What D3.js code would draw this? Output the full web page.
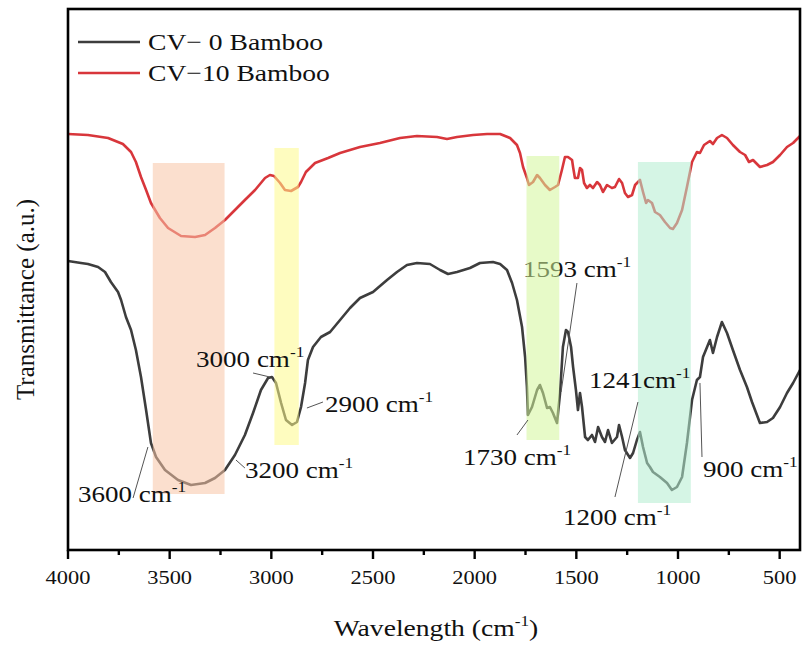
<!DOCTYPE html>
<html lang="en">
<head>
<meta charset="UTF-8">
<title>FTIR</title>
<style>
  body { margin: 0; background: #fff; }
  text { font-family: "Liberation Serif", "Times New Roman", serif; fill: #111; }
</style>
</head>
<body>
<svg id="chart"></svg>
<script src="https://cdn.jsdelivr.net/npm/d3@7"></script>
<script>
// CV-0 Bamboo (black)
var wn0 = [4000, 3936, 3902, 3852, 3818, 3789, 3754, 3739, 3715, 3690, 3666, 3641, 3616, 3592, 3567, 3523, 3459, 3395, 3326, 3277, 3228, 3179, 3130, 3090, 3051, 3016, 2997, 2977, 2952, 2928, 2898, 2874, 2854, 2834, 2820, 2795, 2756, 2711, 2662, 2613, 2564, 2500, 2431, 2382, 2333, 2284, 2220, 2170, 2131, 2087, 2023, 1974, 1910, 1875, 1841, 1816, 1792, 1767, 1752, 1743, 1738, 1718, 1693, 1679, 1664, 1644, 1630, 1615, 1595, 1580, 1566, 1551, 1541, 1526, 1516, 1502, 1492, 1482, 1472, 1457, 1443, 1423, 1408, 1393, 1374, 1359, 1344, 1325, 1300, 1290, 1275, 1261, 1236, 1221, 1202, 1187, 1172, 1152, 1138, 1123, 1089, 1054, 1030, 1005, 980, 956, 931, 907, 892, 877, 857, 843, 828, 808, 784, 759, 730, 695, 661, 636, 597, 562, 533, 498, 464, 434, 400];
var t0 = [289, 287, 286, 283, 278, 268, 258, 250, 233, 220, 200, 173, 140, 107, 93, 80, 70, 65, 67, 72, 80, 95, 115, 137, 160, 172, 173, 167, 147, 130, 125, 128, 143, 167, 190, 203, 213, 218, 230, 242, 252, 258, 270, 278, 285, 287, 286, 280, 276, 278, 282, 287, 288, 286, 280, 267, 250, 223, 193, 163, 135, 143, 160, 165, 157, 142, 143, 137, 127, 157, 203, 220, 218, 203, 183, 160, 140, 157, 143, 113, 110, 115, 108, 123, 113, 108, 120, 107, 113, 125, 113, 100, 92, 97, 110, 118, 103, 87, 83, 78, 73, 67, 60, 63, 73, 107, 150, 170, 173, 193, 203, 210, 197, 213, 228, 217, 200, 180, 163, 148, 127, 128, 132, 143, 157, 167, 180];

// CV-10 Bamboo (red)
var wn10 = [4000, 3902, 3803, 3730, 3690, 3666, 3641, 3616, 3592, 3548, 3508, 3444, 3375, 3326, 3277, 3228, 3179, 3130, 3080, 3031, 3007, 2987, 2957, 2933, 2903, 2869, 2854, 2830, 2785, 2721, 2662, 2564, 2466, 2367, 2284, 2185, 2136, 2087, 2008, 1939, 1875, 1826, 1792, 1777, 1762, 1743, 1733, 1713, 1693, 1679, 1654, 1630, 1605, 1590, 1571, 1556, 1541, 1521, 1516, 1507, 1492, 1482, 1472, 1462, 1448, 1433, 1418, 1398, 1384, 1369, 1349, 1325, 1310, 1290, 1275, 1261, 1246, 1226, 1211, 1187, 1172, 1157, 1148, 1128, 1113, 1089, 1064, 1039, 1025, 1005, 980, 956, 931, 907, 892, 872, 843, 828, 808, 784, 759, 730, 695, 670, 651, 631, 597, 562, 533, 498, 464, 434, 400];
var t10 = [416, 415, 412, 406, 398, 388, 373, 360, 347, 332, 322, 314, 313, 315, 322, 330, 340, 350, 360, 372, 375, 374, 367, 360, 359, 363, 368, 378, 387, 392, 397, 403, 407, 412, 414, 413, 411, 413, 415, 416, 416, 412, 405, 397, 383, 372, 365, 368, 375, 372, 365, 360, 363, 365, 380, 393, 393, 390, 383, 372, 372, 382, 380, 367, 362, 365, 362, 368, 365, 358, 365, 362, 363, 371, 367, 357, 353, 355, 365, 370, 358, 347, 350, 347, 338, 335, 328, 322, 321, 327, 340, 363, 388, 398, 397, 405, 409, 406, 412, 415, 412, 405, 398, 395, 388, 390, 383, 385, 388, 395, 403, 407, 414];

var seriesNames = ["CV\u2212 0 Bamboo", "CV\u221210 Bamboo"];
var seriesColors = ["#3d3d3d", "#d8363b"];

// shaded bands (wavenumber range, a.u. range)
var bandFrom = [3583, 2985, 1745, 1197];
var bandTo = [3230, 2865, 1584, 937];
var bandTop = [387, 402, 394, 388];
var bandBottom = [56, 105, 110, 47];
var bandColors = ["#f7c4a5", "#fdf98a", "#d4f59a", "#b3ecd0"];

// peak annotations: label position and leader line (wavenumber, a.u.)
var annNum = ["3600", "3200", "3000", "2900", "1730", "1593", "1241", "1200", "900"];
var annSpace = [" ", " ", " ", " ", " ", " ", "", " ", " "];
var annX = [3951, 3130, 3370, 2736, 2057, 1762, 1438, 1566, 877];
var annY = [48, 72, 183, 138, 85, 273, 162, 25, 73];
var annUnderBand = [false, false, false, false, false, true, false, false, false];
var leadX1 = [3607, 3174, 3090, 2825, 1792, 1497, 1197, null, 882];
var leadY1 = [103, 90, 177, 142, 115, 267, 148, null, 93];
var leadX2 = [3680, 3130, 3007, 2746, 1738, 1575, 1310, null, 892];
var leadY2 = [52, 82, 173, 148, 130, 158, 53, null, 167];

var xTicks = [4000, 3500, 3000, 2500, 2000, 1500, 1000, 500];
var xMinor = [3750, 3250, 2750, 2250, 1750, 1250, 750];

var width = 805, height = 646;
var mLeft = 68, mRight = 800, mTop = 9, mBottom = 550;
var SX = 1.15;

var svg = d3.select("#chart").attr("width", width).attr("height", height);

var x = d3.scaleLinear().domain([4000, 400]).range([mLeft, mRight]);
var y = d3.scaleLinear().domain([0, 541]).range([mBottom, mTop]);

function stretched(g, px, py, size, anchor) {
    return g.append("text")
        .attr("transform", "translate(" + px + "," + py + ") scale(" + SX + ",1)")
        .attr("font-size", size)
        .attr("text-anchor", anchor || "start");
}

// spectra
var line = d3.line().x(function (d) { return x(d[0]); }).y(function (d) { return y(d[1]); });
var spectra = [d3.zip(wn0, t0), d3.zip(wn10, t10)];
svg.selectAll("path.spec")
    .data(spectra)
    .enter().append("path")
    .attr("class", "spec")
    .attr("d", line)
    .attr("fill", "none")
    .attr("stroke", function (d, i) { return seriesColors[i]; })
    .attr("stroke-width", 2.6)
    .attr("stroke-linejoin", "round");

var annBelow = svg.append("g");

// bands on top of the curves
svg.selectAll("rect.band")
    .data(bandFrom)
    .enter().append("rect")
    .attr("class", "band")
    .attr("x", function (d) { return x(d); })
    .attr("width", function (d, i) { return x(bandTo[i]) - x(d); })
    .attr("y", function (d, i) { return y(bandTop[i]); })
    .attr("height", function (d, i) { return y(bandBottom[i]) - y(bandTop[i]); })
    .attr("fill", function (d, i) { return bandColors[i]; })
    .attr("opacity", 0.55);

var annAbove = svg.append("g");

// annotations
annNum.forEach(function (n, i) {
    var g = annUnderBand[i] ? annBelow : annAbove;
    if (leadX1[i] !== null) {
        g.append("line")
            .attr("x1", x(leadX1[i])).attr("y1", y(leadY1[i]))
            .attr("x2", x(leadX2[i])).attr("y2", y(leadY2[i]))
            .attr("stroke", "#555").attr("stroke-width", 1);
    }
    var t = stretched(g, x(annX[i]), y(annY[i]), 23.5);
    t.append("tspan").text(n + annSpace[i] + "cm");
    t.append("tspan").attr("font-size", 15).attr("dy", -10).text("-1");
});

// frame
svg.append("rect")
    .attr("x", mLeft).attr("y", mTop)
    .attr("width", mRight - mLeft).attr("height", mBottom - mTop)
    .attr("fill", "none").attr("stroke", "#000").attr("stroke-width", 2.6);

// x axis
var axis = svg.append("g").attr("transform", "translate(0," + mBottom + ")");
axis.selectAll("line.major").data(xTicks).enter().append("line")
    .attr("x1", function (d) { return x(d); }).attr("x2", function (d) { return x(d); })
    .attr("y1", 0).attr("y2", 9).attr("stroke", "#000").attr("stroke-width", 2.4);
axis.selectAll("line.minor").data(xMinor).enter().append("line")
    .attr("x1", function (d) { return x(d); }).attr("x2", function (d) { return x(d); })
    .attr("y1", 0).attr("y2", 5).attr("stroke", "#000").attr("stroke-width", 2.4);
xTicks.forEach(function (d) {
    stretched(axis, x(d), 34, 19.5, "middle").text(d);
});

// axis titles
var xt = stretched(svg, 436, 636, 24, "middle");
xt.append("tspan").text("Wavelength (cm");
xt.append("tspan").attr("font-size", 15).attr("dy", -10).text("-1");
xt.append("tspan").attr("dy", 10).text(")");

svg.append("text")
    .attr("transform", "translate(34," + ((mTop + mBottom) / 2 + 20) + ") rotate(-90)")
    .attr("text-anchor", "middle")
    .attr("font-size", 25)
    .text("Transmittance (a.u.)");

// legend
var legend = svg.append("g");
seriesNames.forEach(function (name, i) {
    legend.append("line")
        .attr("x1", 78).attr("x2", 140)
        .attr("y1", 42 + i * 31).attr("y2", 42 + i * 31)
        .attr("stroke", seriesColors[i]).attr("stroke-width", 2.6);
    stretched(legend, 148, 50 + i * 31, 24).text(name);
});
</script>
</body>
</html>
